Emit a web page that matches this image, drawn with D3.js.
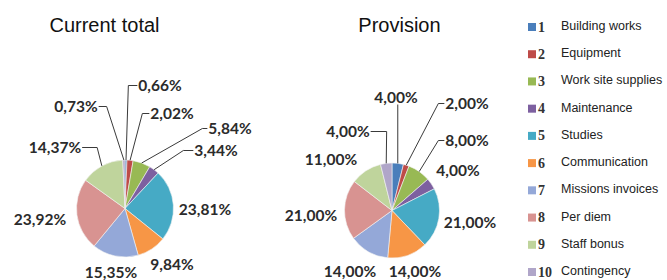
<!DOCTYPE html>
<html><head><meta charset="utf-8">
<script src="https://cdn.jsdelivr.net/npm/d3@7"></script>
<style>body{margin:0;background:#fff;overflow:hidden}</style>
</head><body><svg id="c" width="667" height="280"></svg>
<script>
// ---- data ----
const categories = ["Building works","Equipment","Work site supplies","Maintenance","Studies","Communication","Missions invoices","Per diem","Staff bonus","Contingency"];
const legendNumbers = ["1","2","3","4","5","6","7","8","9","10"];
const currentTotal = [0.66, 2.02, 5.84, 3.44, 23.81, 9.84, 15.35, 23.92, 14.37, 0.73];
const provision = [4.00, 2.00, 8.00, 4.00, 21.00, 14.00, 14.00, 21.00, 11.00, 4.00];
const titles = ["Current total", "Provision"];
const colors = ["#4a7ebb","#be4b48","#98b954","#7d60a0","#46aac5","#f79646","#94a8d8","#d89391","#bfd49c","#b0a6c9"];

// ---- layout (label centre offsets from pie centre, leader elbow length) ----
const layouts = [
  {cx:125, cy:208.5, r:48.5, tx:104.5,
   labels:[[35,-124,9],[47,-96,7],[105,-81,5],[91,-59,10],[80,0,0],[47,55,0],[-14,63,0],[-85,10,0],[-70,-62,15],[-49,-103,8]]},
  {cx:392, cy:210.5, r:47.5, tx:399.5,
   labels:[[4,-114,-1],[75,-108,6],[75,-71,6],[66,-41,0],[78,11,0],[23,60,0],[-42,60,0],[-81,4,0],[-61,-52,0],[-44,-80,16]]}
];

const svg = d3.select("#c");
const fmt = v => d3.format(".2f")(v).replace(".", ",") + "%";
const pie = d3.pie().sort(null).value(d => d);

[currentTotal, provision].forEach((vals, ci) => {
  const L = layouts[ci];
  const g = svg.append("g").attr("transform", `translate(${L.cx},${L.cy})`);
  const arcs = pie(vals);
  const arc = d3.arc().innerRadius(0).outerRadius(L.r);
  g.selectAll("path.slice").data(arcs).join("path")
    .attr("class","slice")
    .attr("d", arc)
    .attr("fill", (d,i) => colors[i])
    .attr("stroke", "#f4f4f4").attr("stroke-width", 0.6);

  svg.append("text").attr("x", L.tx).attr("y", 32)
    .attr("text-anchor","middle")
    .attr("font-family","Liberation Sans, Arial, sans-serif")
    .attr("font-size", 20).attr("fill","#111")
    .text(titles[ci]);

  arcs.forEach((d, i) => {
    const [dx, dy, elbow] = L.labels[i];
    const t = g.append("text").attr("x", dx).attr("y", dy)
      .attr("text-anchor","middle").attr("dominant-baseline","central")
      .attr("font-family","Lato, Carlito, sans-serif").attr("font-weight",700)
      .attr("font-size", 15.5).attr("fill","#2b2b2b")
      .text(fmt(vals[i]));
    if (elbow === 0) return;
    const w = t.node().getComputedTextLength();
    const a = (d.startAngle + d.endAngle) / 2;
    const px = L.r * Math.sin(a), py = -L.r * Math.cos(a);
    let pts;
    if (elbow < 0) {
      pts = [[px, py], [px, dy + 8]];
    } else {
      const side = dx > 0 ? 1 : -1;
      const edge = dx - side * (w / 2 + 1);
      pts = [[px, py], [edge - side * elbow, dy + 1], [edge, dy + 1]];
    }
    g.append("path").attr("d", d3.line()(pts))
      .attr("fill","none").attr("stroke","#3a3a3a").attr("stroke-width",1);
  });
});

// ---- legend ----
const leg = svg.append("g");
const ly = d3.scalePoint().domain(legendNumbers).range([27, 272]);
legendNumbers.forEach((n, i) => {
  const y = ly(n);
  leg.append("rect").attr("x", 528).attr("y", y - 4).attr("width", 8).attr("height", 8)
    .attr("fill", colors[i]);
  leg.append("text").attr("x", 538).attr("y", y).attr("dominant-baseline","central")
    .attr("font-family","Liberation Serif, serif").attr("font-weight",700)
    .attr("font-size", 14).attr("fill","#333").text(n);
  leg.append("text").attr("x", 561).attr("y", y - 1).attr("dominant-baseline","central")
    .attr("font-family","Liberation Sans, Arial, sans-serif")
    .attr("font-size", 12.5).attr("fill","#222").text(categories[i]);
});
</script></body></html>
